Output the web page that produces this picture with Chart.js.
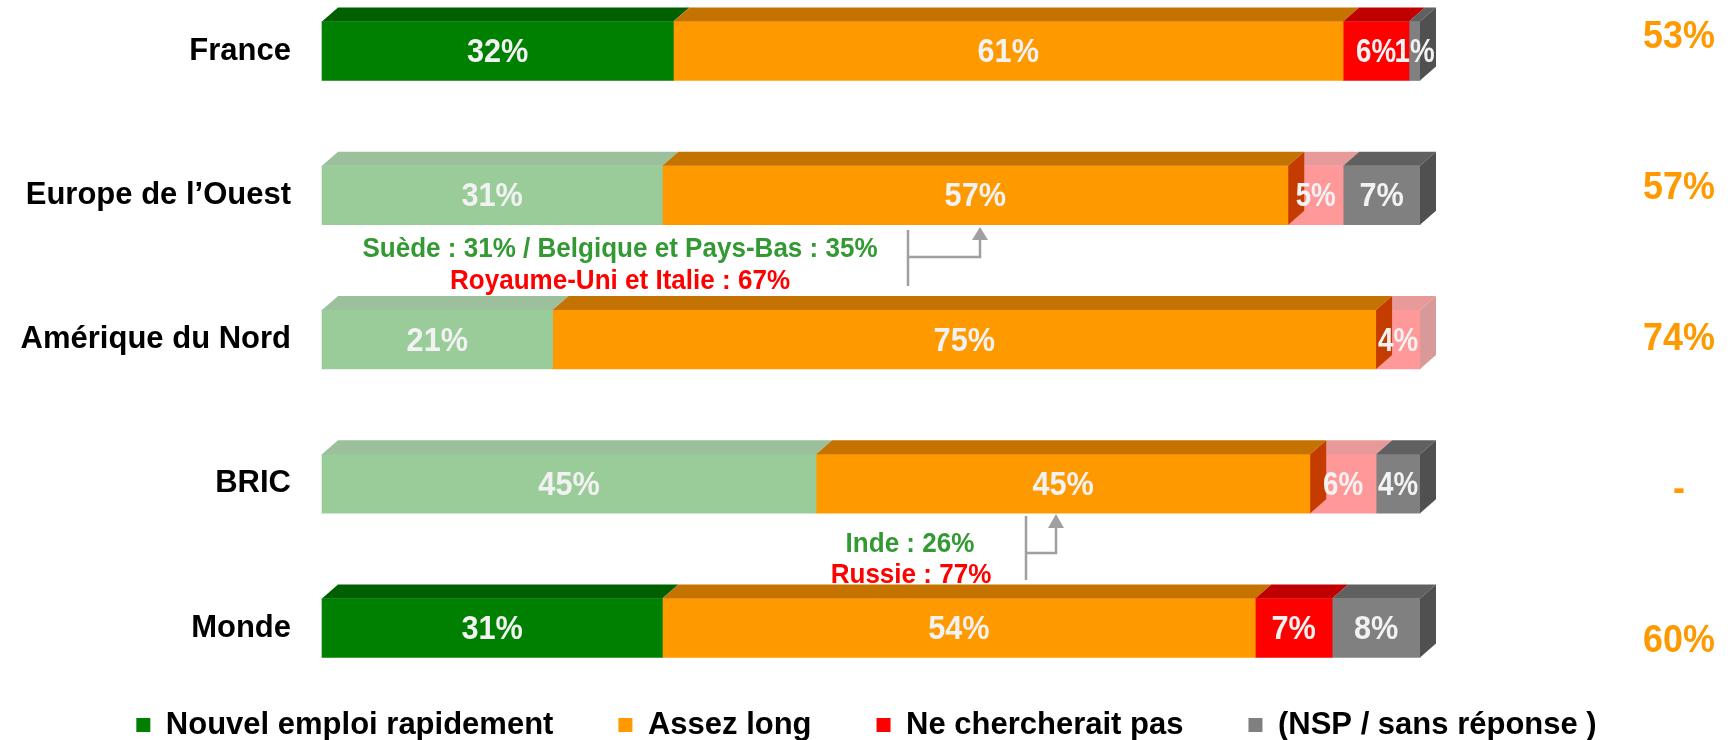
<!DOCTYPE html>
<html>
<head>
<meta charset="utf-8">
<script src="https://cdn.jsdelivr.net/npm/chart.js@4.4.1/dist/chart.umd.min.js"></script>
<style>
html,body{margin:0;padding:0;background:#fff}
#wrap{width:1733px;height:740px}
</style>
</head>
<body>
<div id="wrap"><canvas id="chart"></canvas></div>
<script>
/* Data */
const categories = ['France', 'Europe de l’Ouest', 'Amérique du Nord', 'BRIC', 'Monde'];
const seriesNames = ['Nouvel emploi rapidement', 'Assez long', 'Ne chercherait pas', '(NSP / sans réponse )'];
const nouvelEmploi = [32, 31, 21, 45, 31];
const assezLong = [61, 57, 75, 45, 54];
const neChercherait = [6, 5, 4, 6, 7];
const sansReponse = [1, 7, 0, 4, 8];
const rightValues = ['53%', '57%', '74%', '-', '60%'];
const noteTexts = ['Suède : 31% / Belgique et Pays-Bas : 35%', 'Royaume-Uni et Italie : 67%', 'Inde : 26%', 'Russie : 77%'];

/* Style */
const FONT = "'Liberation Sans', Arial, sans-serif";
const fadedRows = [false, true, true, true, false];
const palette = [
  {front:'#008000', top:'#006000', side:'#004800', fadedFront:'#99CC99', fadedTop:'#9BC09B', fadedSide:'#8AB08A'},
  {front:'#FF9900', top:'#C47300', side:'#C43C00'},
  {front:'#FF0000', top:'#C00000', side:'#A00000', fadedFront:'#FF9999', fadedTop:'#E89A9A', fadedSide:'#D99999'},
  {front:'#808080', top:'#606060', side:'#505050'}
];
const depth = {dx:16, dy:14};

function isFaded(d, row){ return fadedRows[row] && !!palette[d].fadedFront; }

// tall, slightly condensed text like the original
function narrowText(ctx, text, x, y, size, sx){
  ctx.save();
  ctx.font = 'bold ' + size + 'px ' + FONT;
  ctx.translate(x, y);
  ctx.scale(sx, 1);
  ctx.fillText(text, 0, 0);
  ctx.restore();
}

const seriesData = [nouvelEmploi, assezLong, neChercherait, sansReponse];
const datasets = seriesData.map((data, d) => ({
  label: seriesNames[d],
  data,
  backgroundColor: data.map((v, row) => isFaded(d, row) ? palette[d].fadedFront : palette[d].front),
  borderWidth: 0,
  barThickness: 59,
  clip: false
}));

/* 3D faces + values inside the bars */
const facesPlugin = {
  id: 'faces',
  afterDatasetsDraw(chart){
    const ctx = chart.ctx;
    const poly = (pts, color) => {
      ctx.beginPath();
      ctx.moveTo(pts[0][0], pts[0][1]);
      pts.slice(1).forEach(p => ctx.lineTo(p[0], p[1]));
      ctx.closePath();
      ctx.fillStyle = color; ctx.fill();
    };
    const {dx, dy} = depth;
    ctx.save();
    categories.forEach((c, row) => {
      const segs = [];
      chart.data.datasets.forEach((ds, d) => {
        const v = ds.data[row];
        if (!v) return;
        const p = chart.getDatasetMeta(d).data[row].getProps(['x','y','base','height'], true);
        segs.push({d, v, left:Math.min(p.base, p.x), right:Math.max(p.base, p.x),
          top:p.y - p.height/2, bottom:p.y + p.height/2, y:p.y, faded:isFaded(d, row)});
      });
      segs.forEach(s => {
        const pal = palette[s.d];
        poly([[s.left,s.top],[s.right,s.top],[s.right+dx,s.top-dy],[s.left+dx,s.top-dy]], s.faded ? pal.fadedTop : pal.top);
      });
      segs.forEach((s, k) => {
        const next = segs[k+1];
        if (next && !next.faded) return;
        const pal = palette[s.d];
        poly([[s.right,s.top],[s.right+dx,s.top-dy],[s.right+dx,s.bottom-dy],[s.right,s.bottom]], s.faded ? pal.fadedSide : pal.side);
      });
      ctx.fillStyle = '#F2F2F2';
      ctx.textAlign = 'center';
      ctx.textBaseline = 'middle';
      segs.forEach(s => {
        const w = s.right - s.left;
        narrowText(ctx, s.v + '%', (s.left + s.right)/2, s.y + 2, 33, w < 70 ? 0.84 : 0.93);
      });
    });
    ctx.restore();
  }
};

/* Right column and country notes */
const notesPlugin = {
  id: 'notes',
  afterDraw(chart){
    const ctx = chart.ctx;
    ctx.save();
    ctx.textAlign = 'center';
    ctx.textBaseline = 'middle';
    ctx.fillStyle = '#FF9900';
    rightValues.forEach((t, i) => narrowText(ctx, t, 1679, 37 + 151*i, 39, 0.92));

    const noteLayout = [[620, 249, '#339933'], [620, 281, '#FF0000'], [910, 544, '#339933'], [911, 575, '#FF0000']];
    noteTexts.forEach((t, i) => {
      const [x, y, col] = noteLayout[i];
      ctx.fillStyle = col;
      narrowText(ctx, t, x, y, 28, 0.93);
    });

    // connectors: x1, yTop, yBottom, yBend, x2, headBase, tip
    const links = [[908, 230, 286, 257, 980, 240, 227], [1026, 516, 580, 553, 1056, 528, 514]];
    ctx.strokeStyle = '#A0A0A0';
    ctx.fillStyle = '#A0A0A0';
    ctx.lineWidth = 2.5;
    links.forEach(([x1, yT, yB, yM, x2, hb, tip]) => {
      ctx.beginPath();
      ctx.moveTo(x1, yT); ctx.lineTo(x1, yB);
      ctx.moveTo(x1, yM); ctx.lineTo(x2, yM); ctx.lineTo(x2, hb);
      ctx.stroke();
      ctx.beginPath();
      ctx.moveTo(x2 - 8, hb); ctx.lineTo(x2 + 8, hb); ctx.lineTo(x2, tip);
      ctx.closePath(); ctx.fill();
    });
    ctx.restore();
  }
};

new Chart(document.getElementById('chart'), {
  type: 'bar',
  data: {labels: categories, datasets},
  options: {
    indexAxis: 'y',
    responsive: true,
    maintainAspectRatio: false,
    animation: false,
    events: [],
    layout: {padding: {top: 51, left: 0, right: 0, bottom: -10.5}},
    scales: {
      x: {
        stacked: true, min: 0, max: 100,
        ticks: {display: false},
        grid: {display: false, drawTicks: false},
        border: {display: false},
        afterFit: s => { s.height = 16.5; }
      },
      y: {
        stacked: true, offset: false,
        grid: {display: false, drawTicks: false},
        border: {display: false},
        ticks: {padding: 31, color: '#000', font: {family: FONT, size: 31, weight: 'bold'}},
        afterFit: s => { s.width = 322; }
      },
      yRight: {
        type: 'category', position: 'right', labels: categories,
        grid: {display: false, drawTicks: false},
        border: {display: false},
        ticks: {display: false},
        afterFit: s => { s.width = 313; }
      }
    },
    plugins: {
      tooltip: {enabled: false},
      legend: {
        position: 'bottom',
        labels: {
          boxWidth: 14, boxHeight: 14, padding: 65, color: '#000',
          font: {family: FONT, size: 31, weight: 'bold'},
          generateLabels: chart => chart.data.datasets.map((ds, i) => ({
            text: ds.label, fillStyle: palette[i].front, strokeStyle: palette[i].front,
            lineWidth: 0, hidden: false, datasetIndex: i, fontColor: '#000'
          }))
        }
      }
    }
  },
  plugins: [facesPlugin, notesPlugin]
});
</script>
</body>
</html>
